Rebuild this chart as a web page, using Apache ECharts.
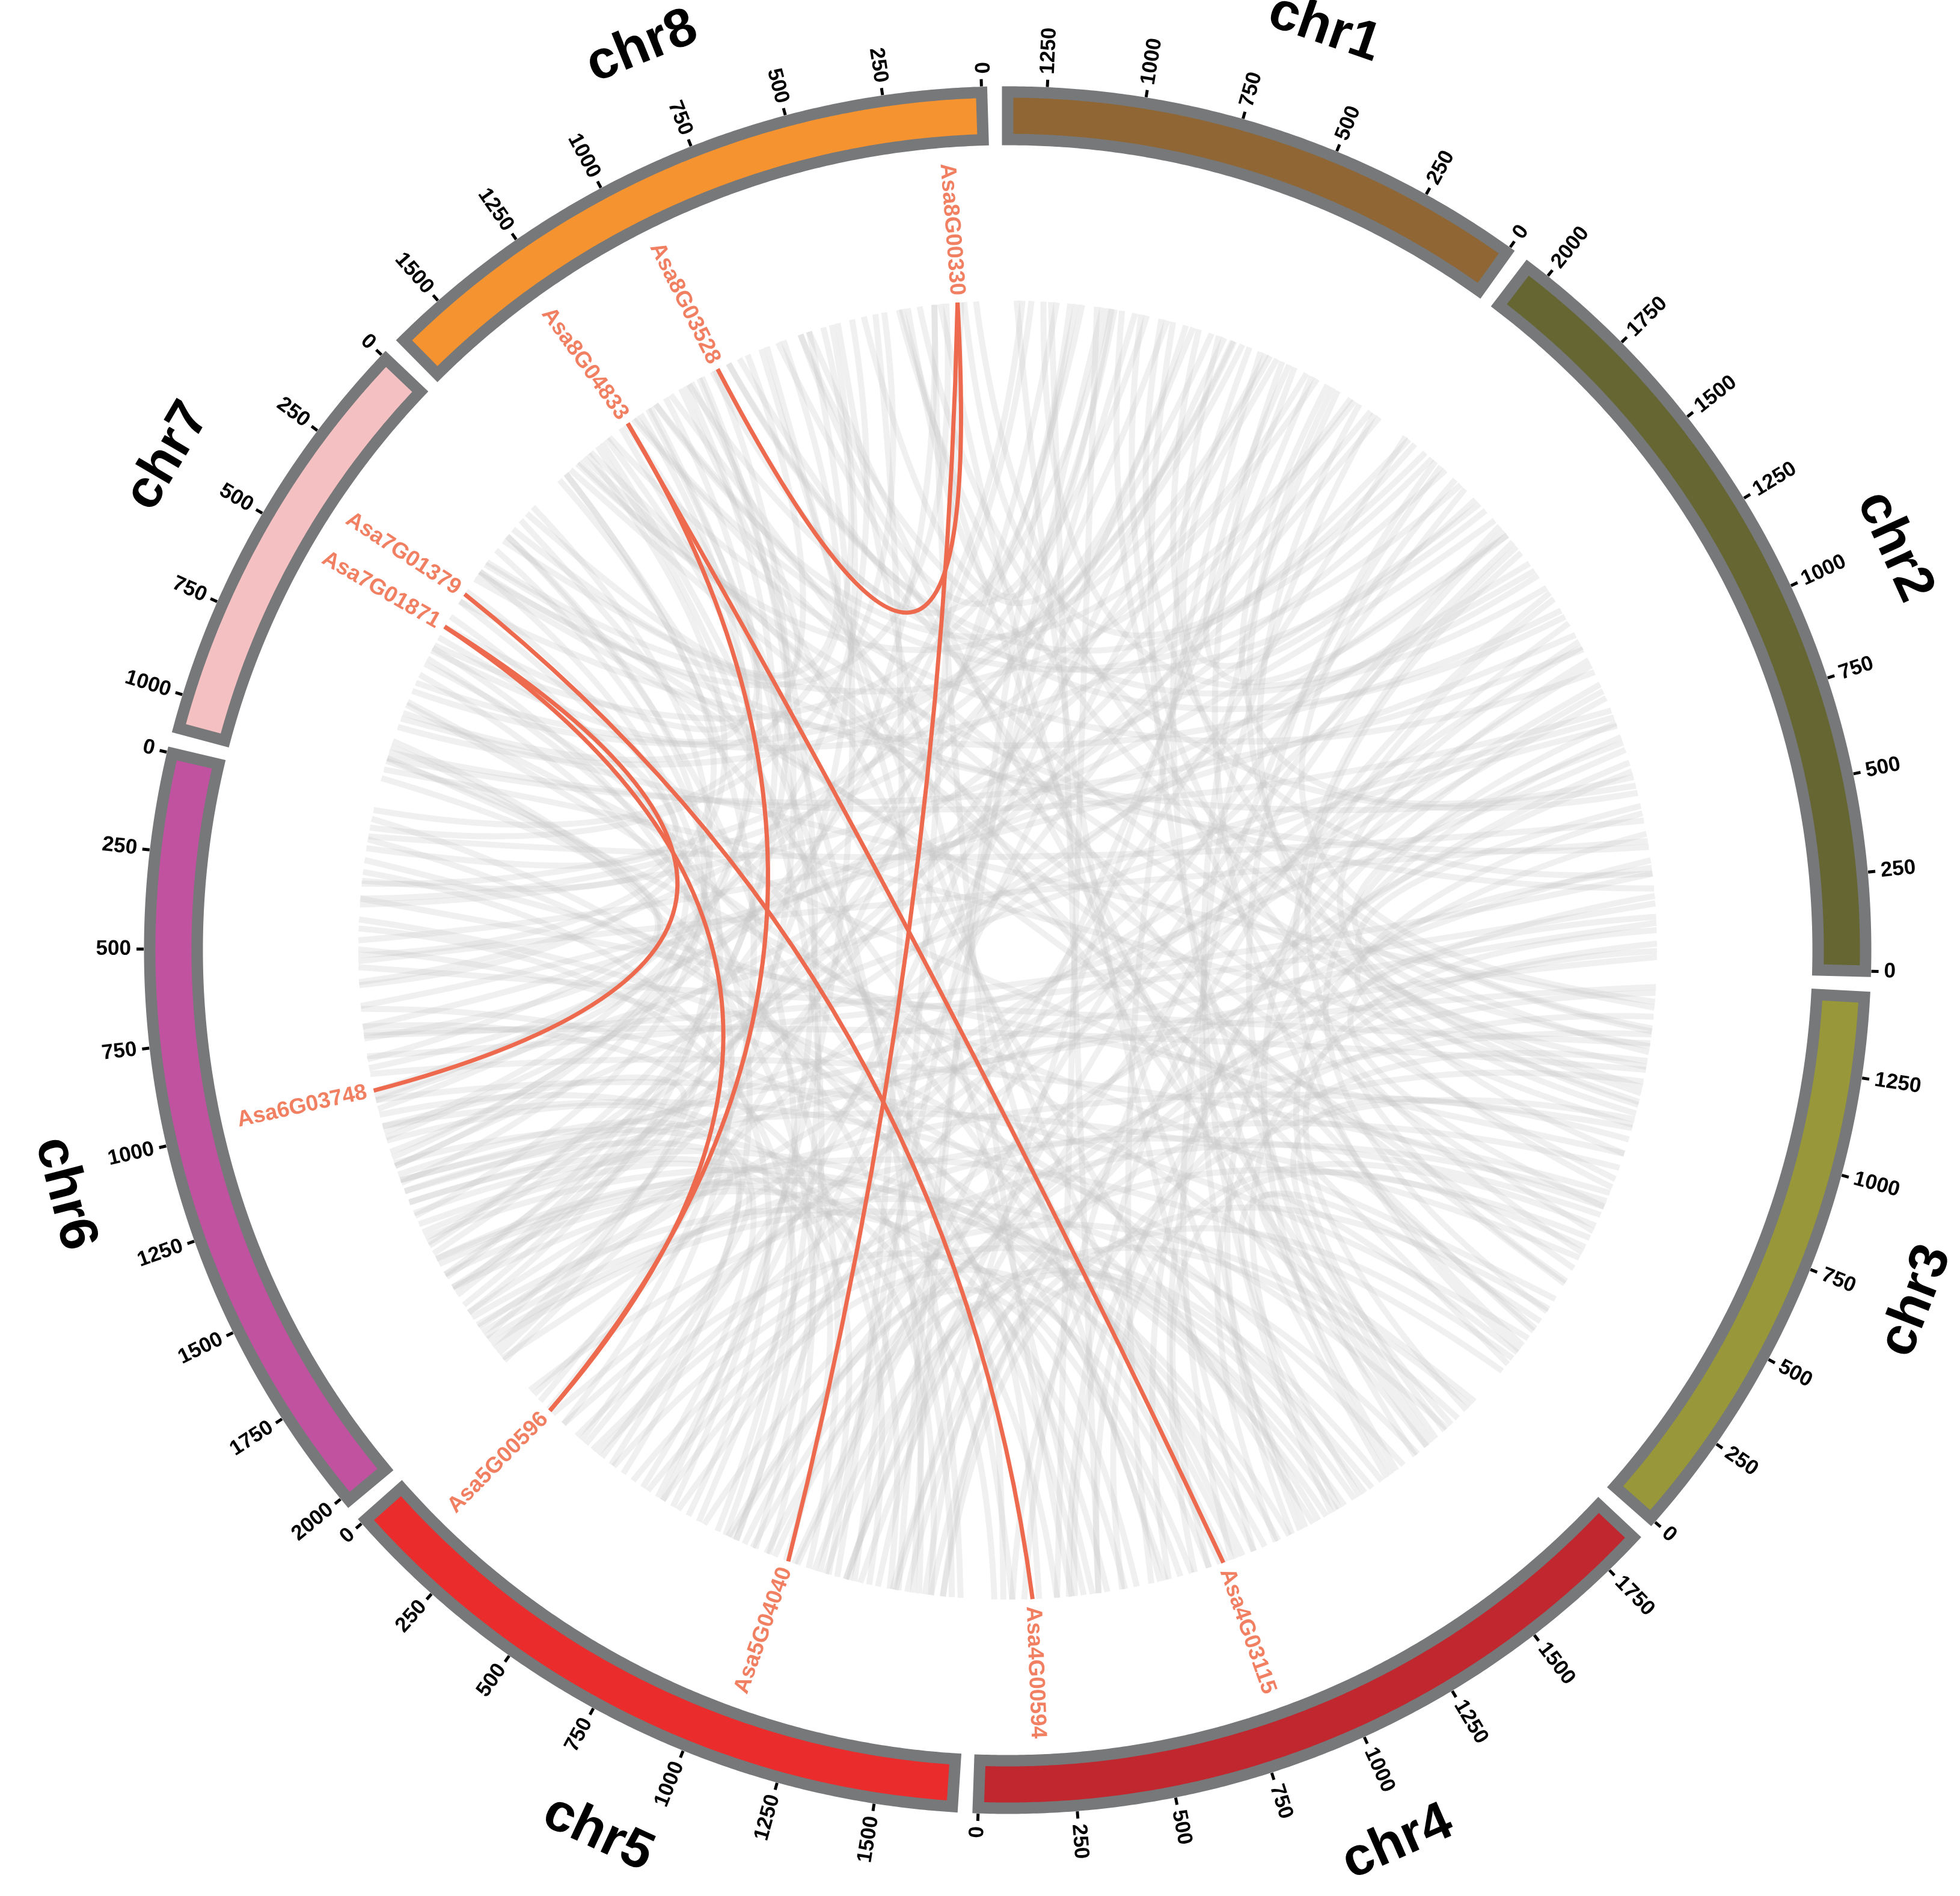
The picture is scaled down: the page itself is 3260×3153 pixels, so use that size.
<!DOCTYPE html>
<html>
<head>
<meta charset="utf-8">
<title>circos</title>
<script src="https://cdn.jsdelivr.net/npm/echarts@6/dist/echarts.min.js"></script>
<style>
  html, body { margin: 0; padding: 0; background: #fff; }
  #chart { width: 3260px; height: 3153px; }
</style>
</head>
<body>
<div id="chart"></div>
<script>
// chromosomes
var chromNames = ['chr1', 'chr2', 'chr3', 'chr4', 'chr5', 'chr6', 'chr7', 'chr8'];
var chromLengths = [1350, 2053, 1454, 1851, 1697, 2015, 1084, 1631];
var chromColors = ['#906734', '#666633', '#989739', '#c1272e', '#eb2c2c', '#c052a0', '#f5c0c2', '#f59331'];
var tickValues = [0, 250, 500, 750, 1000, 1250, 1500, 1750, 2000];

// highlighted genes
var geneNames = ['Asa8G00330', 'Asa8G03528', 'Asa8G04833', 'Asa7G01379', 'Asa7G01871',
                 'Asa6G03748', 'Asa5G00596', 'Asa5G04040', 'Asa4G00594', 'Asa4G03115'];
var geneChrom = [8, 8, 8, 7, 7, 6, 5, 5, 4, 4];
var genePos = [102, 941, 1293, 391, 519, 977, 136, 1088, 158, 811];

// highlighted pairs (gene index, gene index)
var redLinks = [[0, 7], [0, 1], [2, 6], [2, 9], [3, 8], [4, 5], [4, 6]];

// background pairs: chrA, posA, chrB, posB
var grayLinks = [
  [1,25,5,410],[1,60,6,1520],[1,105,3,880],[1,140,7,260],[1,190,4,1210],[1,230,2,640],[1,270,6,330],
  [1,310,8,1180],[1,355,5,1460],[1,400,3,150],[1,445,6,1890],[1,480,4,560],[1,520,2,1720],[1,575,7,890],
  [1,610,5,760],[1,655,6,1040],[1,700,3,1310],[1,745,8,420],[1,790,4,1640],[1,830,2,310],[1,880,6,610],
  [1,920,5,1230],[1,965,3,520],[1,1010,7,590],[1,1050,4,240],[1,1100,6,1760],[1,1140,8,960],[1,1185,5,90],
  [1,1230,2,1390],[1,1270,6,1210],[1,1320,4,920],
  [1,45,4,1090],[1,125,6,980],[1,210,3,1050],[1,290,5,1110],[1,375,2,1560],[1,460,8,1500],[1,545,6,280],
  [1,630,4,1470],[1,720,5,600],[1,810,6,1720],[1,900,3,760],[1,990,8,640],[1,1120,5,1520],[1,1205,4,380],
  [1,1300,6,870],[1,420,5,900],[1,1030,5,1470],
  [2,30,6,1450],[2,75,5,1010],[2,120,4,1780],[2,165,3,690],[2,210,6,860],[2,260,8,1510],[2,355,5,560],
  [2,400,7,170],[2,445,4,380],[2,490,6,120],[2,540,3,1180],[2,585,8,230],[2,690,5,1580],[2,735,6,1330],
  [2,780,4,1060],[2,830,3,290],[2,875,7,980],[2,920,5,330],[2,970,6,1980],[2,1015,8,1370],[2,1060,4,710],
  [2,1110,3,1020],[2,1155,6,470],[2,1200,5,1340],[2,1250,7,420],[2,1295,4,1450],[2,1340,8,640],[2,1440,6,1640],
  [2,1485,3,410],[2,1530,5,200],[2,1580,4,130],[2,1625,6,760],[2,1670,8,1050],[2,1770,5,1120],[2,1815,3,1400],
  [2,1860,6,1140],[2,1905,4,1550],[2,1950,7,730],[2,1995,8,80],[2,2035,5,680],
  [2,50,4,1240],[2,145,6,1290],[2,235,5,1450],[2,330,3,980],[2,420,6,540],[2,515,4,1680],[2,610,7,310],
  [2,660,5,880],[2,760,3,1250],[2,850,6,1010],[2,945,4,620],[2,1040,5,150],[2,1130,6,1840],[2,1225,8,900],
  [2,1320,4,280],[2,1410,6,690],[2,1510,3,130],[2,1600,5,1290],[2,1700,6,350],[2,1790,8,1260],[2,1880,4,840],
  [2,2020,6,1560],[2,310,6,790],[2,820,6,1240],[2,1560,6,1990],
  [3,40,6,1580],[3,95,5,1500],[3,210,8,720],[3,250,4,1320],[3,340,6,200],[3,460,7,330],[3,575,5,870],
  [3,620,4,460],[3,740,6,920],[3,790,8,1270],[3,830,5,40],[3,930,4,1710],[3,970,6,1690],[3,1060,7,1040],
  [3,1130,5,1290],[3,1230,8,300],[3,1260,6,560],[3,1350,4,300],[3,1430,5,780],[3,70,8,1450],[3,1200,4,1000],
  [3,500,6,1290],[3,1110,8,860],
  [3,120,4,1600],[3,180,6,1010],[3,300,5,1620],[3,400,8,1540],[3,540,4,760],[3,660,6,1900],[3,710,5,350],
  [3,880,6,330],[3,1000,4,90],[3,1090,8,1180],[3,1170,6,780],[3,1290,5,960],[3,1380,7,860],[3,1450,6,1370],
  [3,690,7,800],[3,220,7,270],
  [4,30,6,1410],[4,90,8,1560],[4,180,5,1400],[4,330,7,640],[4,410,6,60],[4,510,5,930],[4,610,8,510],
  [4,660,6,1810],[4,760,5,260],[4,860,7,80],[4,960,6,700],[4,1110,8,160],[4,1160,5,1620],[4,1260,6,1920],
  [4,1370,7,810],[4,1410,5,500],[4,1500,6,400],[4,1600,8,1120],[4,1690,6,1100],[4,1740,5,1180],[4,1820,7,1000],
  [4,1050,6,1370],[4,1190,6,1600],[4,820,8,1320],[4,1300,5,1040],
  [4,60,5,1300],[4,240,6,1230],[4,360,8,760],[4,470,6,1640],[4,590,5,1560],[4,700,6,130],[4,800,7,420],
  [4,920,5,620],[4,1010,6,1500],[4,1140,8,1080],[4,1230,6,500],[4,1340,5,1220],[4,1430,8,290],[4,1560,6,1870],
  [4,1800,5,420],[4,880,8,780],[4,290,8,180],
  [5,130,8,1000],[5,300,6,1850],[5,460,7,480],[5,620,8,610],[5,720,6,240],[5,830,7,150],[5,970,8,1420],
  [5,1080,6,1480],[5,1160,7,700],[5,1260,8,380],[5,1370,6,1060],[5,1540,8,1210],[5,1650,7,940],[5,370,6,1270],
  [5,60,6,1790],[5,200,8,1560],[5,280,7,600],[5,540,6,1150],[5,660,8,1010],[5,900,6,430],[5,1020,7,960],
  [5,1200,6,1330],[5,1320,8,90],[5,1440,6,760],[5,1580,6,1580],[5,1680,8,1400],
  [6,30,8,830],[6,160,7,560],[6,520,8,1590],[6,800,7,1070],[6,1000,8,460],[6,1190,7,380],[6,1700,8,1060],
  [6,1960,7,210],[6,1530,8,180],[6,1300,7,20],
  [6,90,8,350],[6,270,7,660],[6,620,8,1460],[6,900,7,1010],[6,1120,8,1140],[6,1420,7,150],[6,1650,8,950],
  [6,1940,8,530],[6,1790,7,300],[6,1100,6,1690],
  [7,120,8,700],[7,520,8,1300],[7,840,8,560],[8,270,1,1000],[8,900,2,1920],[8,1480,3,600],[8,1240,6,1240],
  [7,50,8,1040],[7,300,8,140],[7,610,8,1380],[7,760,1,580],[7,1000,2,1100],[8,40,3,1300],[8,610,4,1620],
  [8,1200,5,860]
];

// layout (radius axis in px)
var FONT = '"Liberation Sans", Arial, sans-serif';
var R_MAX = 1443;
var RING_IN = 1348, RING_OUT = 1427, BORDER = '#76787a';
var TICK_IN = 1437, TICK_OUT = 1449, TICK_LABEL_R = 1458;
var CHR_LABEL_R = 1620, LABEL_SHIFT = 45;
var LINK_R = 1080, GENE_LABEL_R = 1092, BEZ_R = 108;
var GAP = 66;

// chromosomes go counterclockwise from the top: chr8 first, chr1 last
var layoutOrder = [8, 7, 6, 5, 4, 3, 2, 1];
var chromStart = {};
var total = 0;
layoutOrder.forEach(function (c) {
  total += GAP;
  chromStart[c] = total;
  total += chromLengths[c - 1];
});
function g(c, p) { return chromStart[c] + p; }

function bisect(a, b) {
  var m = (a + b) / 2;
  if (Math.abs(a - b) > total / 2) m += total / 2;
  return m % total;
}

function radialText(api, r, v, text, size, color) {
  var c = api.coord([0, 0]);
  var p = api.coord([r, v]);
  var a = Math.atan2(p[1] - c[1], p[0] - c[0]);
  var right = p[0] >= c[0];
  return {
    type: 'text', x: p[0], y: p[1],
    rotation: right ? -a : Math.PI - a,
    style: {
      text: text, fill: color, fontSize: size, fontWeight: 'bold', fontFamily: FONT,
      align: right ? 'left' : 'right', verticalAlign: 'middle'
    }
  };
}

function linkCurve(api, va, vb, color, width) {
  var p1 = api.coord([LINK_R, va]);
  var p2 = api.coord([LINK_R, vb]);
  var cp = api.coord([BEZ_R, bisect(va, vb)]);
  return {
    type: 'bezierCurve',
    shape: { x1: p1[0], y1: p1[1], x2: p2[0], y2: p2[1], cpx1: cp[0], cpy1: cp[1] },
    style: { stroke: color, lineWidth: width, fill: 'none', lineCap: 'butt' }
  };
}

var tickData = [];
chromNames.forEach(function (n, i) {
  tickValues.forEach(function (t) {
    if (t <= chromLengths[i]) tickData.push([i + 1, t]);
  });
});

var chart = echarts.init(document.getElementById('chart'));

var option = {
  backgroundColor: '#ffffff',
  animation: false,
  polar: { center: [1676, 1580], radius: R_MAX },
  radiusAxis: { type: 'value', min: 0, max: R_MAX, show: false },
  angleAxis: { type: 'value', min: 0, max: total, startAngle: 90, clockwise: false, show: false },
  series: [
    {
      name: 'background links',
      type: 'custom', coordinateSystem: 'polar', silent: true, z: 1,
      data: grayLinks.map(function (l) { return [LINK_R, g(l[0], l[1])]; }),
      renderItem: function (params, api) {
        var l = grayLinks[params.dataIndex];
        return linkCurve(api, g(l[0], l[1]), g(l[2], l[3]), 'rgba(196,196,196,0.26)', 10);
      }
    },
    {
      name: 'highlighted links',
      type: 'custom', coordinateSystem: 'polar', silent: true, z: 2,
      data: redLinks.map(function (l) { return [LINK_R, g(geneChrom[l[0]], genePos[l[0]])]; }),
      renderItem: function (params, api) {
        var l = redLinks[params.dataIndex];
        return linkCurve(api, g(geneChrom[l[0]], genePos[l[0]]), g(geneChrom[l[1]], genePos[l[1]]), '#ee6a4f', 7);
      }
    },
    {
      name: 'gene labels',
      type: 'custom', coordinateSystem: 'polar', silent: true, z: 3,
      data: geneNames.map(function (n, i) { return [GENE_LABEL_R, g(geneChrom[i], genePos[i])]; }),
      renderItem: function (params, api) {
        var i = params.dataIndex;
        return radialText(api, GENE_LABEL_R, g(geneChrom[i], genePos[i]), geneNames[i], 37, '#f17f62');
      }
    },
    {
      name: 'ideogram',
      type: 'custom', coordinateSystem: 'polar', silent: true, z: 4,
      data: chromNames.map(function (n, i) { return [RING_OUT, g(i + 1, 0)]; }),
      renderItem: function (params, api) {
        var i = params.dataIndex, c = i + 1, len = chromLengths[i];
        var outer = [], inner = [];
        var steps = Math.ceil(len / 10);
        for (var k = 0; k <= steps; k++) {
          var v = g(c, len * k / steps);
          outer.push(api.coord([RING_OUT, v]));
          inner.unshift(api.coord([RING_IN, v]));
        }
        return {
          type: 'polygon',
          shape: { points: outer.concat(inner) },
          style: { fill: chromColors[i], stroke: BORDER, lineWidth: 19, lineJoin: 'miter' }
        };
      }
    },
    {
      name: 'ticks',
      type: 'custom', coordinateSystem: 'polar', silent: true, z: 5,
      data: tickData.map(function (d) { return [TICK_OUT, g(d[0], d[1])]; }),
      renderItem: function (params, api) {
        var d = tickData[params.dataIndex];
        var v = g(d[0], d[1]);
        var p1 = api.coord([TICK_IN, v]), p2 = api.coord([TICK_OUT, v]);
        return {
          type: 'group',
          children: [
            { type: 'line', shape: { x1: p1[0], y1: p1[1], x2: p2[0], y2: p2[1] },
              style: { stroke: '#000', lineWidth: 5 } },
            radialText(api, TICK_LABEL_R, v, String(d[1]), 35, '#000')
          ]
        };
      }
    },
    {
      name: 'chromosome names',
      type: 'custom', coordinateSystem: 'polar', silent: true, z: 6,
      data: chromNames.map(function (n, i) { return [CHR_LABEL_R, g(i + 1, chromLengths[i] / 2)]; }),
      renderItem: function (params, api) {
        var i = params.dataIndex;
        var mid = g(i + 1, chromLengths[i] / 2);
        var c = api.coord([0, 0]);
        var probe = api.coord([CHR_LABEL_R, mid]);
        var top = probe[1] < c[1];
        var p = api.coord([CHR_LABEL_R, mid + (top ? -LABEL_SHIFT : LABEL_SHIFT)]);
        var a = Math.atan2(p[1] - c[1], p[0] - c[0]);
        return {
          type: 'text', x: p[0], y: p[1],
          rotation: top ? -(a + Math.PI / 2) : -(a - Math.PI / 2),
          style: {
            text: chromNames[i], fill: '#000', fontSize: 90, fontWeight: 'bold', fontFamily: FONT,
            align: 'center', verticalAlign: 'middle'
          }
        };
      }
    }
  ]
};

chart.setOption(option);
</script>
</body>
</html>
